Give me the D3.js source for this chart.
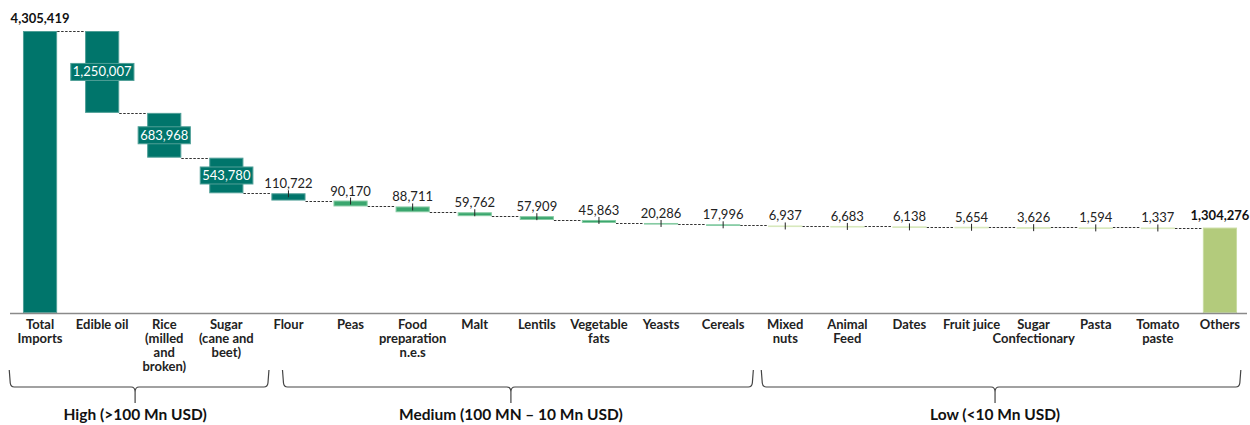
<!DOCTYPE html>
<html>
<head>
<meta charset="utf-8">
<script src="https://cdn.jsdelivr.net/npm/d3@7/dist/d3.min.js"></script>
<style>
  html, body { margin: 0; padding: 0; background: #fff; }
  svg { display: block; font-family: Lato, "Open Sans", sans-serif; }
</style>
</head>
<body>
<svg id="chart" width="1250" height="425"></svg>
<script>
// Food imports by product (thousand USD): the total, each product's share, and the remainder
const categories = [
  "Total Imports", "Edible oil", "Rice (milled and broken)", "Sugar (cane and beet)",
  "Flour", "Peas", "Food preparation n.e.s", "Malt", "Lentils", "Vegetable fats",
  "Yeasts", "Cereals", "Mixed nuts", "Animal Feed", "Dates", "Fruit juice",
  "Sugar Confectionary", "Pasta", "Tomato paste", "Others"
];
const values = [
  4305419, 1250007, 683968, 543780,
  110722, 90170, 88711, 59762, 57909, 45863,
  20286, 17996, 6937, 6683, 6138, 5654,
  3626, 1594, 1337, 1304276
];
// Wrapped tick labels, one row per text line
const tickLabels = [
  ["Total", "Imports"], ["Edible oil"], ["Rice", "(milled", "and", "broken)"], ["Sugar", "(cane and", "beet)"],
  ["Flour"], ["Peas"], ["Food", "preparation", "n.e.s"], ["Malt"], ["Lentils"], ["Vegetable", "fats"],
  ["Yeasts"], ["Cereals"], ["Mixed", "nuts"], ["Animal", "Feed"], ["Dates"], ["Fruit juice"],
  ["Sugar", "Confectionary"], ["Pasta"], ["Tomato", "paste"], ["Others"]
];
// Value tiers shown under the axis
const groupLabels = ["High (>100 Mn USD)", "Medium (100 MN \u2013 10 Mn USD)", "Low (<10 Mn USD)"];
const groupFirst = ["Total Imports", "Flour", "Mixed nuts"];
const groupLast = ["Sugar (cane and beet)", "Cereals", "Others"];

const svg = d3.select("#chart");
const baseY = 313, topY = 31;

const x = d3.scaleBand().domain(categories).range([9, 1251])
  .paddingInner(0.45).paddingOuter(0.225);
const y = d3.scaleLinear().domain([0, values[0]]).range([baseY, topY]);

// Build waterfall segments: first and last are totals, the rest step down
const n = values.length;
let running = values[0];
const bars = values.map((v, i) => {
  if (i === 0 || i === n - 1) return { name: categories[i], v, lo: 0, hi: v, total: true, i };
  const hi = running; running -= v;
  return { name: categories[i], v, lo: running, hi, total: false, i };
});

function fillOf(d) {
  if (d.i === n - 1) return ["#b3cb7c", "#c9dca2"];
  if (d.v >= 100000) return ["#00756b", "#4f9f97"];
  if (d.v >= 10000) return ["#3aa66e", "#86cba3"];
  return ["#b6cf82", "#d8e8bd"];
}

const fmt = d3.format(",");
const bw = x.bandwidth();

// Dashed connectors between consecutive segments
const connectors = bars.slice(0, -1).map((d, i) => ({
  x1: x(d.name) + bw, x2: x(bars[i + 1].name), level: d.total ? d.hi : d.lo
}));
svg.append("g").selectAll("line").data(connectors).join("line")
  .attr("x1", d => d.x1).attr("x2", d => d.x2)
  .attr("y1", d => Math.round(y(d.level)) + 0.5).attr("y2", d => Math.round(y(d.level)) + 0.5)
  .attr("stroke", "#333").attr("stroke-width", 1).attr("stroke-dasharray", "2.5,1.5");

// Bars
svg.append("g").selectAll("rect").data(bars).join("rect")
  .attr("x", d => x(d.name) + 0.5)
  .attr("y", d => y(d.hi) + 0.5)
  .attr("width", bw - 1)
  .attr("height", d => Math.max(0.6, y(d.lo) - y(d.hi) - 1))
  .attr("fill", d => fillOf(d)[0])
  .attr("stroke", d => fillOf(d)[1])
  .attr("stroke-width", 1);

// Axis line
svg.append("line").attr("x1", 10).attr("x2", 1247)
  .attr("y1", baseY + 0.5).attr("y2", baseY + 0.5)
  .attr("stroke", "#8a8a8a").attr("stroke-width", 1.6);

// Small tick marks on thin segments
const thin = bars.filter(d => !d.total && d.v < 200000);
svg.append("g").selectAll("line").data(thin).join("line")
  .attr("x1", d => x(d.name) + bw / 2).attr("x2", d => x(d.name) + bw / 2)
  .attr("y1", d => y(d.hi) - 3).attr("y2", d => y(d.hi) + 4)
  .attr("stroke", "#222").attr("stroke-width", 1);

// Value labels above thin segments
svg.append("g").selectAll("text").data(thin).join("text")
  .attr("x", d => x(d.name) + bw / 2)
  .attr("y", d => y(d.hi) - 5)
  .attr("text-anchor", "middle").attr("font-size", 13).attr("fill", "#222")
  .text(d => fmt(d.v));

// Boxed labels inside the large step segments
const big = bars.filter(d => !d.total && d.v >= 200000);
const bigG = svg.append("g").selectAll("g").data(big).join("g")
  .attr("transform", d => `translate(${x(d.name) + bw / 2},${(y(d.hi) + y(d.lo)) / 2})`);
bigG.append("text")
  .attr("text-anchor", "middle").attr("dy", "0.35em")
  .attr("font-size", 13).attr("fill", "#fff")
  .text(d => fmt(d.v))
  .each(function () {
    const b = this.getBBox();
    d3.select(this.parentNode).insert("rect", "text")
      .attr("x", b.x - 2).attr("y", -8.5).attr("width", b.width + 4).attr("height", 17)
      .attr("fill", "#00756b").attr("stroke", "#4f9f97").attr("stroke-width", 1);
  });

// Bold labels for the two totals
svg.append("g").selectAll("text").data(bars.filter(d => d.total)).join("text")
  .attr("x", d => x(d.name) + bw / 2)
  .attr("y", d => y(d.hi) - 8)
  .attr("text-anchor", "middle").attr("font-size", 13).attr("font-weight", 700).attr("fill", "#111")
  .text(d => fmt(d.v));

// Category labels
const tl = svg.append("g").selectAll("text").data(categories).join("text")
  .attr("x", d => x(d) + bw / 2)
  .attr("text-anchor", "middle").attr("font-size", 13).attr("font-weight", 700).attr("fill", "#222");
tl.selectAll("tspan").data((d, i) => tickLabels[i]).join("tspan")
  .attr("x", function () { return this.parentNode.getAttribute("x"); })
  .attr("y", (d, j) => 329 + j * 14)
  .text(d => d);

// Curly brackets for value tiers
const step = x.step();
const cx = c => x(c) + bw / 2;
const ext = [[-0.48, 0.67], [-0.08, 0.47], [-0.37, 0.32]];
const tipShift = [-4, -7, -6];
const braceTop = 370, braceY = 387, tipY = 403;
groupLabels.forEach((lab, g) => {
  const x0 = cx(groupFirst[g]) + ext[g][0] * step;
  const x1 = cx(groupLast[g]) + ext[g][1] * step;
  const xm = (x0 + x1) / 2 + tipShift[g];
  const r = 4;
  const p = d3.path();
  p.moveTo(x0 - 1, braceTop);
  p.lineTo(x0, braceY - r);
  p.quadraticCurveTo(x0 + 0.5, braceY, x0 + r, braceY);
  p.lineTo(xm - r, braceY);
  p.quadraticCurveTo(xm, braceY, xm, braceY + r + 1);
  p.lineTo(xm, tipY);
  p.moveTo(xm, braceY + r + 1);
  p.quadraticCurveTo(xm, braceY, xm + r, braceY);
  p.lineTo(x1 - r, braceY);
  p.quadraticCurveTo(x1 - 0.5, braceY, x1, braceY - r);
  p.lineTo(x1 + 1, braceTop);
  svg.append("path").attr("d", p.toString())
    .attr("fill", "none").attr("stroke", "#444").attr("stroke-width", 1.2);
  svg.append("text").attr("x", xm).attr("y", 420)
    .attr("text-anchor", "middle").attr("font-size", 15.5).attr("font-weight", 700).attr("fill", "#111")
    .text(lab);
});
</script>
</body>
</html>
